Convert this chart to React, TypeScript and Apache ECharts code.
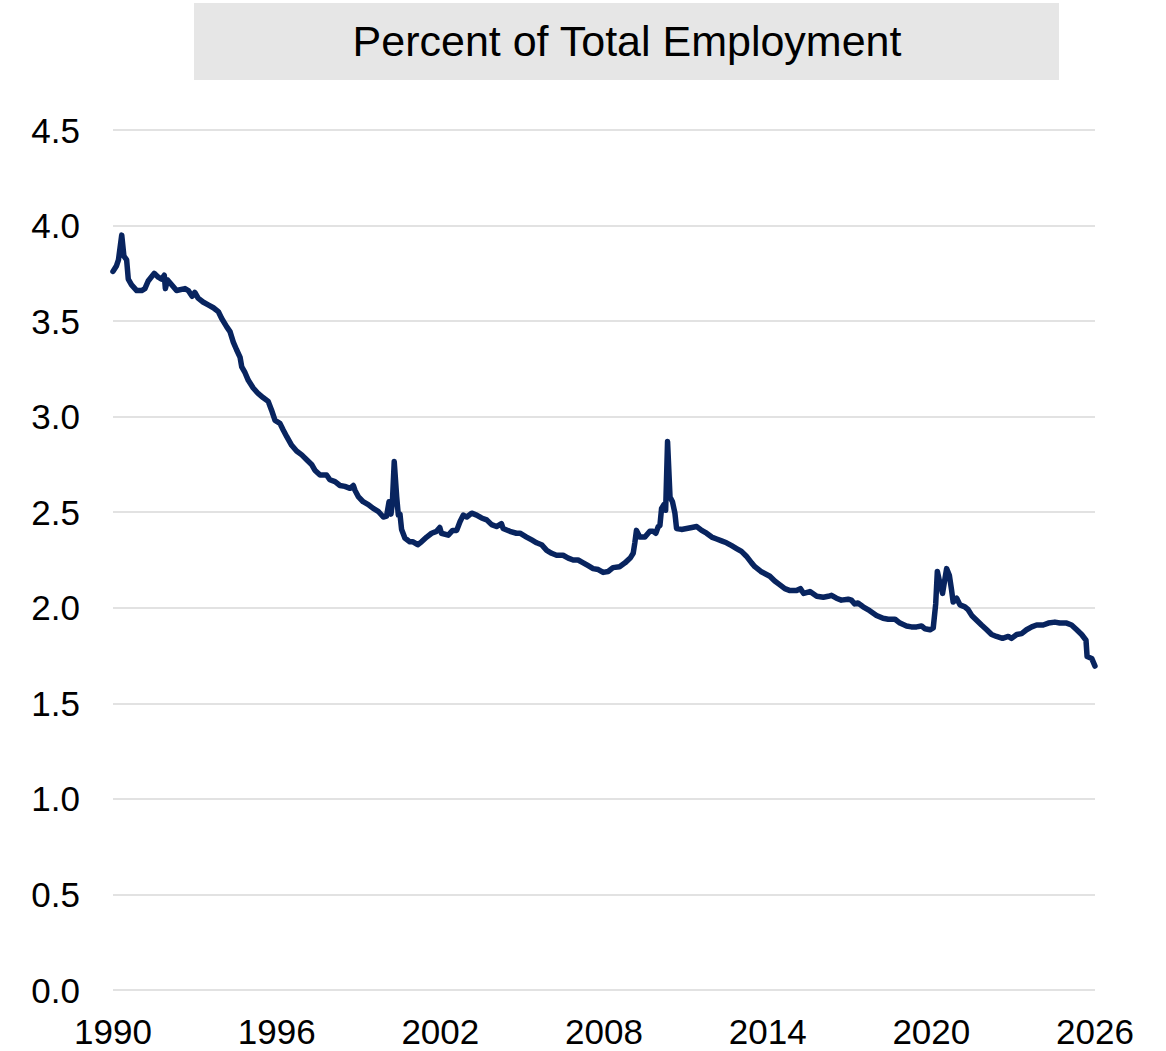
import React, { useEffect, useRef } from "react";
import * as echarts from "echarts";

const TITLE = "Percent of Total Employment";
const START_YEAR = 1990;
const END_YEAR = 2026;
const X_STEP = 6;
const Y_TICKS = [0, 0.5, 1.0, 1.5, 2.0, 2.5, 3.0, 3.5, 4.0, 4.5];

// Decimal year of each reading
const dates: number[] = [
  1990.00, 1990.13, 1990.20, 1990.32, 1990.40, 1990.50, 1990.56, 1990.68, 1990.87, 1991.05,
  1991.17, 1991.29, 1991.51, 1991.66, 1991.78, 1991.88, 1991.92, 1992.00, 1992.15, 1992.33,
  1992.64, 1992.76, 1992.90, 1993.00, 1993.12, 1993.30, 1993.49, 1993.68, 1993.86, 1993.98,
  1994.17, 1994.29, 1994.41, 1994.53, 1994.66, 1994.72, 1994.84, 1994.96, 1995.14, 1995.33,
  1995.50, 1995.69, 1995.81, 1995.94, 1996.12, 1996.24, 1996.37, 1996.55, 1996.73, 1996.92,
  1997.10, 1997.28, 1997.40, 1997.59, 1997.83, 1997.95, 1998.14, 1998.32, 1998.50, 1998.69,
  1998.81, 1998.87, 1999.00, 1999.17, 1999.36, 1999.54, 1999.72, 1999.91, 2000.03, 2000.12,
  2000.19, 2000.24, 2000.31, 2000.40, 2000.46, 2000.52, 2000.58, 2000.70, 2000.88, 2001.00,
  2001.17, 2001.31, 2001.50, 2001.68, 2001.86, 2001.98, 2002.04, 2002.29, 2002.45, 2002.60,
  2002.72, 2002.84, 2002.97, 2003.15, 2003.33, 2003.51, 2003.70, 2003.88, 2004.06, 2004.24,
  2004.30, 2004.55, 2004.79, 2004.92, 2005.16, 2005.35, 2005.53, 2005.71, 2005.90, 2006.08,
  2006.26, 2006.50, 2006.69, 2006.87, 2007.05, 2007.24, 2007.42, 2007.60, 2007.79, 2007.97,
  2008.15, 2008.33, 2008.57, 2008.77, 2008.96, 2009.07, 2009.13, 2009.19, 2009.31, 2009.50,
  2009.68, 2009.80, 2009.90, 2009.99, 2010.05, 2010.11, 2010.20, 2010.26, 2010.33, 2010.42,
  2010.51, 2010.60, 2010.66, 2010.84, 2011.03, 2011.22, 2011.40, 2011.58, 2011.76, 2011.95,
  2012.13, 2012.31, 2012.49, 2012.68, 2012.86, 2013.04, 2013.22, 2013.41, 2013.53, 2013.75,
  2014.08, 2014.26, 2014.45, 2014.63, 2014.82, 2015.06, 2015.20, 2015.32, 2015.55, 2015.80,
  2016.04, 2016.22, 2016.34, 2016.52, 2016.70, 2016.95, 2017.07, 2017.19, 2017.31, 2017.50,
  2017.74, 2017.99, 2018.23, 2018.42, 2018.67, 2018.85, 2019.09, 2019.27, 2019.46, 2019.64,
  2019.77, 2019.95, 2020.07, 2020.16, 2020.22, 2020.29, 2020.41, 2020.56, 2020.66, 2020.74,
  2020.80, 2020.93, 2021.05, 2021.23, 2021.35, 2021.48, 2021.66, 2021.84, 2022.03, 2022.21,
  2022.39, 2022.61, 2022.82, 2022.94, 2023.13, 2023.31, 2023.49, 2023.68, 2023.86, 2024.10,
  2024.29, 2024.53, 2024.71, 2024.96, 2025.14, 2025.33, 2025.51, 2025.67, 2025.71, 2025.88,
  2026.00,
];

// Percent of total employment
const values: number[] = [
  3.76, 3.79, 3.82, 3.95, 3.84, 3.82, 3.72, 3.69, 3.66, 3.66,
  3.67, 3.71, 3.75, 3.73, 3.72, 3.74, 3.67, 3.715, 3.69, 3.66,
  3.67, 3.66, 3.63, 3.65, 3.62, 3.60, 3.585, 3.57, 3.55, 3.515,
  3.47, 3.445, 3.39, 3.35, 3.31, 3.26, 3.23, 3.19, 3.15, 3.12,
  3.10, 3.08, 3.035, 2.98, 2.965, 2.93, 2.895, 2.85, 2.82, 2.80,
  2.775, 2.75, 2.72, 2.695, 2.695, 2.67, 2.66, 2.64, 2.635, 2.625,
  2.64, 2.615, 2.58, 2.555, 2.54, 2.52, 2.505, 2.475, 2.48, 2.555,
  2.49, 2.545, 2.765, 2.58, 2.485, 2.49, 2.41, 2.365, 2.345, 2.345,
  2.33, 2.345, 2.37, 2.39, 2.40, 2.42, 2.39, 2.38, 2.405, 2.405,
  2.45, 2.485, 2.475, 2.495, 2.485, 2.47, 2.46, 2.435, 2.425, 2.44,
  2.415, 2.40, 2.39, 2.39, 2.37, 2.355, 2.34, 2.33, 2.30, 2.285,
  2.275, 2.275, 2.26, 2.25, 2.25, 2.235, 2.22, 2.205, 2.20, 2.185,
  2.19, 2.21, 2.215, 2.235, 2.26, 2.285, 2.34, 2.405, 2.37, 2.37,
  2.40, 2.40, 2.39, 2.425, 2.43, 2.52, 2.54, 2.51, 2.87, 2.58,
  2.555, 2.495, 2.415, 2.41, 2.415, 2.42, 2.425, 2.405, 2.39, 2.37,
  2.36, 2.35, 2.34, 2.325, 2.31, 2.295, 2.27, 2.235, 2.215, 2.19,
  2.165, 2.14, 2.12, 2.10, 2.09, 2.09, 2.10, 2.075, 2.085, 2.06,
  2.055, 2.06, 2.065, 2.05, 2.04, 2.045, 2.04, 2.02, 2.025, 2.005,
  1.985, 1.96, 1.945, 1.94, 1.94, 1.92, 1.905, 1.90, 1.90, 1.905,
  1.89, 1.885, 1.895, 2.02, 2.19, 2.145, 2.075, 2.205, 2.17, 2.095,
  2.03, 2.05, 2.015, 2.005, 1.99, 1.96, 1.935, 1.91, 1.885, 1.86,
  1.85, 1.84, 1.85, 1.84, 1.86, 1.865, 1.885, 1.90, 1.91, 1.91,
  1.92, 1.925, 1.92, 1.92, 1.91, 1.885, 1.86, 1.83, 1.745, 1.735,
  1.695,
];

const FONT = "'Liberation Sans', Arial, sans-serif";

export default function App() {
  const ref = useRef<HTMLDivElement>(null);

  useEffect(() => {
    document.body.style.margin = "0";
    if (!ref.current) return;
    const chart = echarts.init(ref.current, null, { renderer: "svg" });
    const seriesData = dates.map((d, i) => [d - START_YEAR, values[i]]);
    chart.setOption({
      animation: false,
      backgroundColor: "#ffffff",
      textStyle: { fontFamily: FONT },
      grid: { left: 113, right: 71, top: 130, bottom: 61, containLabel: false },
      graphic: [
        {
          type: "rect",
          shape: { x: 194, y: 3, width: 865, height: 77 },
          style: { fill: "#e6e6e6" },
          silent: true,
        },
        {
          type: "text",
          x: 627,
          y: 41,
          style: {
            text: TITLE,
            fill: "#000000",
            font: `43px ${FONT}`,
            textAlign: "center",
            textVerticalAlign: "middle",
          },
          silent: true,
        },
      ],
      xAxis: {
        type: "value",
        min: 0,
        max: END_YEAR - START_YEAR,
        interval: X_STEP,
        axisLine: { show: false },
        axisTick: { show: false },
        splitLine: { show: false },
        axisLabel: {
          fontSize: 35,
          color: "#000000",
          fontFamily: FONT,
          margin: 24,
          formatter: (v: number) => String(START_YEAR + v),
        },
      },
      yAxis: {
        type: "value",
        min: Y_TICKS[0],
        max: Y_TICKS[Y_TICKS.length - 1],
        interval: 0.5,
        axisLine: { show: false },
        axisTick: { show: false },
        splitLine: { show: true, lineStyle: { color: "#d9d9d9", width: 1.5 } },
        axisLabel: {
          fontSize: 35,
          color: "#000000",
          fontFamily: FONT,
          margin: 33,
          formatter: (v: number) => v.toFixed(1),
        },
      },
      series: [
        {
          type: "line",
          data: seriesData,
          symbol: "none",
          smooth: false,
          lineStyle: { color: "#08245f", width: 5.5, join: "round", cap: "round" },
        },
      ],
    });
    return () => chart.dispose();
  }, []);

  return <div ref={ref} style={{ width: 1166, height: 1051 }} />;
}
